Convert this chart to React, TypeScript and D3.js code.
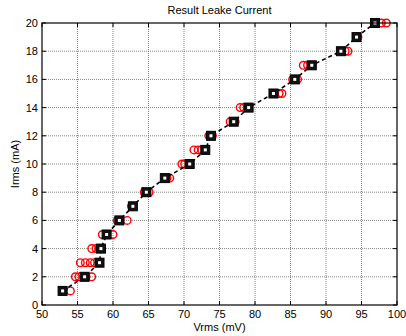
import React from "react";
import * as d3 from "d3";

// Measured current levels (mA) and the fitted voltage at each level (mV)
const levels = [1, 2, 3, 4, 5, 6, 7, 8, 9, 10, 11, 12, 13, 14, 15, 16, 17, 18, 19, 20];
const fitVrms = [52.9, 56.0, 58.1, 58.3, 59.1, 60.9, 62.8, 64.7, 67.3, 70.8, 73.0, 73.8, 77.0, 79.1, 82.6, 85.6, 88.0, 92.1, 94.3, 96.9];

// Individual sample readings
const sampleVrms = [
  54.0,
  54.7, 55.2, 56.2, 57.0,
  55.4, 56.1, 56.8, 57.4,
  57.0, 57.6, 58.0,
  58.5, 60.0,
  60.6, 62.0,
  62.6,
  64.4, 65.1,
  67.6, 68.0,
  69.7, 70.1,
  71.4, 72.0, 72.5,
  73.5, 74.0,
  76.5, 77.2,
  77.9, 78.4,
  83.4, 83.8,
  85.3, 86.0,
  86.8, 87.4,
  92.7, 93.1,
  94.5,
  97.8, 98.5,
];
const sampleIrms = [
  1,
  2, 2, 2, 2,
  3, 3, 3, 3,
  4, 4, 4,
  5, 5,
  6, 6,
  7,
  8, 8,
  9, 9,
  10, 10,
  11, 11, 11,
  12, 12,
  13, 13,
  14, 14,
  15, 15,
  16, 16,
  17, 17,
  18, 18,
  19,
  20, 20,
];

const xTicks = [50, 55, 60, 65, 70, 75, 80, 85, 90, 95, 100];
const yTicks = [0, 2, 4, 6, 8, 10, 12, 14, 16, 18, 20];

const W = 406;
const H = 336;
const left = 42;
const right = 397;
const top = 23;
const bottom = 305;

export default function App() {
  const x = d3.scaleLinear().domain([50, 100]).range([left, right]);
  const y = d3.scaleLinear().domain([0, 20]).range([bottom, top]);
  const line = d3
    .line<number>()
    .x((_, i) => x(fitVrms[i]))
    .y((d) => y(d));
  const font = "Arial, 'Liberation Sans', sans-serif";
  const tick = 4;

  return (
    <svg
      width={W}
      height={H}
      style={{ position: "absolute", left: 0, top: 0, background: "#fff" }}
      fontFamily={font}
    >
      <rect x={0} y={0} width={W} height={H} fill="#fff" />
      <rect x={left} y={top} width={right - left} height={bottom - top} fill="#fff" />
      {/* grid */}
      {xTicks.slice(1, -1).map((t) => (
        <line key={"gx" + t} x1={x(t)} x2={x(t)} y1={top} y2={bottom} stroke="#777" strokeWidth={0.9} strokeDasharray="1 1" />
      ))}
      {yTicks.slice(1, -1).map((t) => (
        <line key={"gy" + t} x1={left} x2={right} y1={y(t)} y2={y(t)} stroke="#777" strokeWidth={0.9} strokeDasharray="1 1" />
      ))}
      {/* ticks */}
      {xTicks.map((t) => (
        <g key={"tx" + t}>
          <line x1={x(t)} x2={x(t)} y1={bottom} y2={bottom - tick} stroke="#000" />
          <line x1={x(t)} x2={x(t)} y1={top} y2={top + tick} stroke="#000" />
          <text x={x(t)} y={bottom + 13} fontSize={11} textAnchor="middle" fill="#000">
            {t}
          </text>
        </g>
      ))}
      {yTicks.map((t) => (
        <g key={"ty" + t}>
          <line x1={left} x2={left + tick} y1={y(t)} y2={y(t)} stroke="#000" />
          <line x1={right} x2={right - tick} y1={y(t)} y2={y(t)} stroke="#000" />
          <text x={left - 4} y={y(t) + 4} fontSize={11} textAnchor="end" fill="#000">
            {t}
          </text>
        </g>
      ))}
      {/* samples */}
      {sampleVrms.map((v, i) => (
        <circle key={"c" + i} cx={x(v)} cy={y(sampleIrms[i])} r={3.8} fill="none" stroke="#ff0000" strokeWidth={1.4} />
      ))}
      {/* fitted line */}
      <path d={line(levels) || ""} fill="none" stroke="#000" strokeWidth={1.6} strokeDasharray="4 3" />
      {fitVrms.map((v, i) => (
        <g key={"s" + i}>
          <rect x={x(v) - 4.5} y={y(levels[i]) - 4.5} width={9} height={9} fill="#111" stroke="#000" strokeWidth={1} />
          <rect x={x(v) - 1.5} y={y(levels[i]) - 1.5} width={3} height={3} fill="#fff" />
        </g>
      ))}
      {/* frame */}
      <rect x={left} y={top} width={right - left} height={bottom - top} fill="none" stroke="#000" strokeWidth={1.2} />
      <text x={(left + right) / 2} y={14} fontSize={11} textAnchor="middle" fill="#000">
        Result Leake Current
      </text>
      <text x={(left + right) / 2} y={331} fontSize={11} textAnchor="middle" fill="#000">
        Vrms (mV)
      </text>
      <text
        transform={`translate(19,${(top + bottom) / 2}) rotate(-90)`}
        fontSize={11}
        textAnchor="middle"
        fill="#000"
      >
        Irms (mA)
      </text>
    </svg>
  );
}
